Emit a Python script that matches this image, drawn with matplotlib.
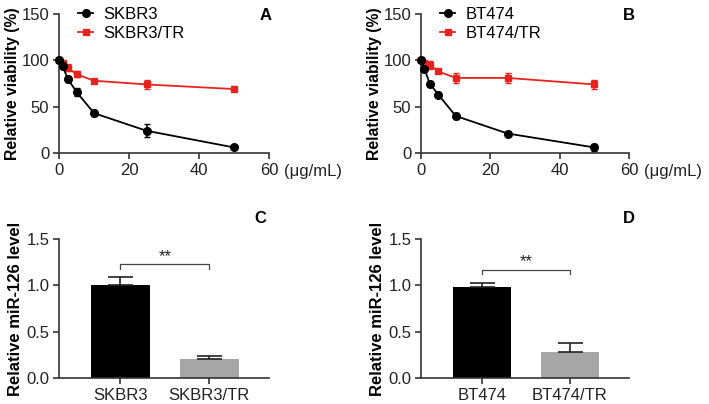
import matplotlib.pyplot as plt
from matplotlib.lines import Line2D

plt.rcParams['font.family'] = ['Liberation Sans', 'DejaVu Sans']

# viability curves
dose = [0, 1, 2.5, 5, 10, 25, 50]

skbr3 = [100, 94, 80, 66, 43, 24, 6]
skbr3_err = [1, 3, 3, 4, 3, 7, 1]
skbr3_tr = [100, 97, 92, 85, 78, 74, 69]
skbr3_tr_err = [1, 2, 4, 3, 2, 5, 2]

bt474 = [100, 91, 75, 63, 40, 21, 6]
bt474_err = [1, 2, 3, 3, 3, 1, 4]
bt474_tr = [100, 97, 95, 88, 81, 81, 74]
bt474_tr_err = [1, 2, 4, 2, 5, 5, 5]

# miR-126 levels
cats_c = ['SKBR3', 'SKBR3/TR']
mir_c = [1.0, 0.21]
mir_c_err = [0.09, 0.03]
cats_d = ['BT474', 'BT474/TR']
mir_d = [0.98, 0.28]
mir_d_err = [0.05, 0.10]

W, H = 709, 404
fig = plt.figure(figsize=(W / 100, H / 100), dpi=100)

RED = '#e8221d'


def add_ax(left, top, right, bottom):
    return fig.add_axes([left / W, 1 - bottom / H, (right - left) / W, (bottom - top) / H])


def style(ax):
    for s in ['top', 'right']:
        ax.spines[s].set_visible(False)
    for s in ['left', 'bottom']:
        ax.spines[s].set_linewidth(1.2)
        ax.spines[s].set_color('#333333')
    ax.tick_params(direction='out', length=4, width=1.2, labelsize=12, colors='#333333',
                   labelcolor='#222222', pad=3)


def curve_panel(ax, y1, e1, y2, e2, labels, letter, lx):
    ax.errorbar(dose, y1, yerr=e1, color='black', marker='o', ms=5.5, lw=1.3,
                capsize=2.5, elinewidth=1.2, zorder=3, clip_on=False)
    ax.errorbar(dose, y2, yerr=e2, color=RED, marker='s', ms=5, lw=1.3,
                capsize=2.5, elinewidth=1.2, zorder=2, clip_on=False)
    ax.set_xlim(0, 60)
    ax.set_ylim(0, 150)
    ax.set_xticks([0, 20, 40, 60])
    ax.set_yticks([0, 50, 100, 150])
    ax.set_ylabel('Relative viability (%)', fontsize=11.3, fontweight='bold', labelpad=1)
    style(ax)
    ax.text(1.072, -0.13, '(\u03bcg/mL)', transform=ax.transAxes, fontsize=12,
            ha='left', va='center', color='#222222')
    ax.text(lx, 0.99, letter, transform=ax.transAxes, fontsize=12, fontweight='bold',
            ha='center', va='center')
    handles = [Line2D([], [], color='black', marker='o', ms=5.5, lw=1.3),
               Line2D([], [], color=RED, marker='s', ms=5, lw=1.3)]
    ax.legend(handles, labels, loc='upper left', bbox_to_anchor=(0.02, 1.16), frameon=False,
              fontsize=12, handlelength=0.9, handletextpad=0.6, labelspacing=0.25)


def bar_panel(ax, cats, vals, errs, letter, bracket_y, lx):
    xs = [0, 1]
    ax.bar(xs, vals, width=0.66, color=['black', '#a6a6a6'],
           yerr=[[0, 0], errs], capsize=9, error_kw=dict(elinewidth=1.2, capthick=1.2,
                                                          ecolor='#222222'))
    ax.set_xlim(-0.69, 1.67)
    ax.set_ylim(0, 1.5)
    ax.set_xticks(xs)
    ax.set_xticklabels(cats)
    ax.set_yticks([0, 0.5, 1.0, 1.5])
    ax.set_yticklabels(['0.0', '0.5', '1.0', '1.5'])
    ax.set_ylabel('Relative miR-126 level', fontsize=12, fontweight='bold', labelpad=2)
    style(ax)
    ax.plot([0, 0, 1, 1], [bracket_y - 0.05, bracket_y, bracket_y, bracket_y - 0.05],
            color='#444444', lw=0.9)
    ax.text(0.5, bracket_y, '**', ha='center', va='bottom', fontsize=12, color='#222222')
    ax.text(lx, 1.15, letter, transform=ax.transAxes, fontsize=12, fontweight='bold',
            ha='center', va='center')


ax_a = add_ax(59, 14, 269, 153)
curve_panel(ax_a, skbr3, skbr3_err, skbr3_tr, skbr3_tr_err, ['SKBR3', 'SKBR3/TR'], 'A', 0.985)
ax_b = add_ax(421, 14, 629, 153)
curve_panel(ax_b, bt474, bt474_err, bt474_tr, bt474_tr_err, ['BT474', 'BT474/TR'], 'B', 1.0)

ax_c = add_ax(59, 239, 269, 378)
bar_panel(ax_c, cats_c, mir_c, mir_c_err, 'C', 1.23, 0.96)
ax_d = add_ax(421, 239, 629, 378)
bar_panel(ax_d, cats_d, mir_d, mir_d_err, 'D', 1.17, 1.0)

fig.savefig('out.png', dpi=100)
